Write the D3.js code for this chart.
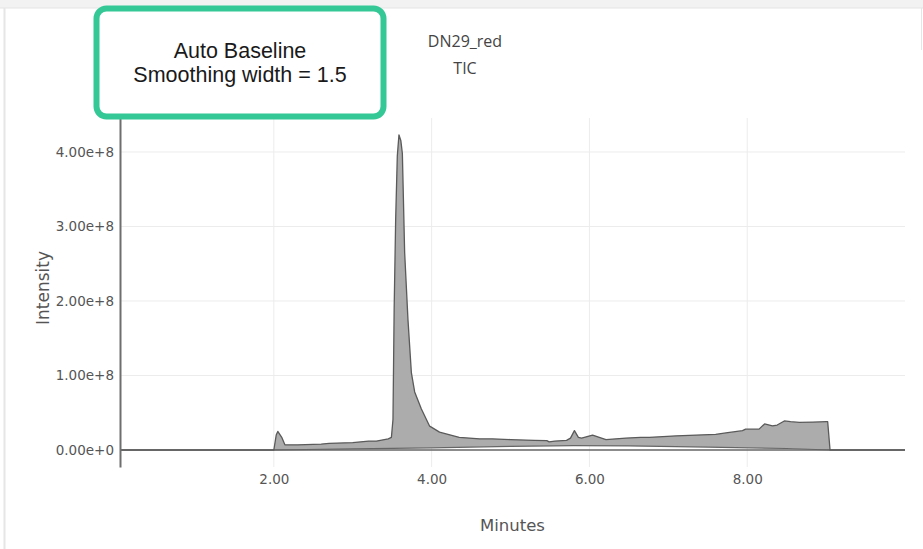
<!DOCTYPE html>
<html lang="en">
<head>
    <meta charset="UTF-8">
    <title>DN29_red TIC</title>
    <style>
        body {
            margin: 0;
            padding: 0;
            background-color: #ffffff;
        }
        svg {
            display: block;
        }
    </style>
    <script src="https://d3js.org/d3.v7.min.js"></script>
</head>
<body>
    <script>
        const width = 923;
        const height = 549;

        // TIC trace (minutes, intensity)
        const minutes = [
            0.05, 2.0, 2.03, 2.05, 2.1, 2.14, 2.3, 2.6, 2.7, 3.0, 3.2, 3.3, 3.45, 3.49, 3.51, 3.525, 3.544, 3.565,
            3.586, 3.61, 3.629, 3.658, 3.70, 3.743, 3.785, 3.87, 3.975, 4.10, 4.35, 4.61, 4.77, 5.0,
            5.3, 5.46, 5.49, 5.56, 5.71, 5.76, 5.81, 5.86, 5.9, 6.04, 6.21, 6.46, 6.65, 6.76, 7.10,
            7.60, 7.73, 7.94, 7.98, 8.15, 8.22, 8.32, 8.38, 8.47, 8.55, 8.66, 8.83, 9.0, 9.02, 9.05,
            9.5, 9.7, 10.0
        ];
        const intensity = [
            0, 0, 0.2e8, 0.25e8, 0.17e8, 0.07e8, 0.07e8, 0.08e8, 0.09e8, 0.1e8, 0.12e8, 0.12e8, 0.15e8, 0.17e8, 0.41e8, 1.9e8, 3.09e8, 3.95e8,
            4.23e8, 4.15e8, 3.98e8, 2.65e8, 1.75e8, 1.04e8, 0.78e8, 0.55e8, 0.32e8, 0.24e8, 0.17e8, 0.15e8, 0.15e8, 0.14e8,
            0.13e8, 0.125e8, 0.11e8, 0.12e8, 0.13e8, 0.16e8, 0.26e8, 0.17e8, 0.16e8, 0.2e8, 0.14e8, 0.16e8, 0.17e8, 0.17e8, 0.19e8,
            0.21e8, 0.23e8, 0.26e8, 0.28e8, 0.28e8, 0.35e8, 0.325e8, 0.335e8, 0.39e8, 0.38e8, 0.37e8, 0.375e8, 0.38e8, 0.38e8, 0,
            0, 0, 0
        ];

        // auto baseline
        const baseMinutes = [2.0, 3.0, 4.0, 5.0, 5.8, 6.5, 7.5, 8.5, 9.05];
        const baseIntensity = [0, 0.015e8, 0.03e8, 0.05e8, 0.06e8, 0.055e8, 0.04e8, 0.02e8, 0];

        const xTicks = [2, 4, 6, 8];
        const yTicks = [0, 1e8, 2e8, 3e8, 4e8];
        const titleLines = ["DN29_red", "TIC"];
        const noteLines = ["Auto Baseline", "Smoothing width = 1.5"];

        const plotLeft = 120, plotRight = 905, plotTop = 118, plotBottom = 467;

        const x = d3.scaleLinear().domain([0.05, 10]).range([plotLeft, plotRight]);
        const y = d3.scaleLinear().domain([-0.228e8, 4.456e8]).range([plotBottom, plotTop]);

        const svg = d3.select("body").append("svg")
            .attr("width", width)
            .attr("height", height);

        // screenshot frame
        svg.append("rect").attr("x", 0).attr("y", 0).attr("width", width).attr("height", 8).attr("fill", "#f2f2f2");
        svg.append("line").attr("x1", 0).attr("x2", width).attr("y1", 8).attr("y2", 8).attr("stroke", "#e4e4e4");
        svg.append("line").attr("x1", 4.5).attr("x2", 4.5).attr("y1", 8).attr("y2", height).attr("stroke", "#e6e6e6").attr("stroke-width", 2);
        svg.append("line").attr("x1", 921.5).attr("x2", 921.5).attr("y1", 8).attr("y2", 50).attr("stroke", "#e6e6e6");

        // grid
        svg.append("g").selectAll("line")
            .data(xTicks)
            .join("line")
            .attr("x1", d => x(d)).attr("x2", d => x(d))
            .attr("y1", plotTop).attr("y2", plotBottom)
            .attr("stroke", "#ececec");
        svg.append("g").selectAll("line")
            .data(yTicks.filter(d => d !== 0))
            .join("line")
            .attr("x1", plotLeft).attr("x2", plotRight)
            .attr("y1", d => y(d)).attr("y2", d => y(d))
            .attr("stroke", "#ececec");

        // fill between trace and baseline
        const trace = minutes.map((m, i) => [m, intensity[i]]);
        const base = baseMinutes.map((m, i) => [m, baseIntensity[i]]);
        const inRange = trace.filter(d => d[0] >= baseMinutes[0] && d[0] <= baseMinutes[baseMinutes.length - 1]);
        const line = d3.line().x(d => x(d[0])).y(d => y(d[1]));

        svg.append("path")
            .attr("d", line(inRange.concat(base.slice().reverse())) + "Z")
            .attr("fill", "#acacac")
            .attr("stroke", "none");

        svg.append("path")
            .attr("d", line(base))
            .attr("fill", "none")
            .attr("stroke", "#666")
            .attr("stroke-width", 1.2);

        // zero line
        svg.append("line")
            .attr("x1", plotLeft).attr("x2", plotRight)
            .attr("y1", y(0)).attr("y2", y(0))
            .attr("stroke", "#666")
            .attr("stroke-width", 1.5);

        svg.append("path")
            .attr("d", line(trace))
            .attr("fill", "none")
            .attr("stroke", "#5a5a5a")
            .attr("stroke-width", 1.3)
            .attr("stroke-linejoin", "round");

        // y axis
        const yAxis = svg.append("g")
            .attr("transform", `translate(${plotLeft},0)`)
            .call(d3.axisLeft(y).tickValues(yTicks).tickSize(0).tickPadding(6)
                .tickFormat(d => d === 0 ? "0.00e+0" : d3.format(".2e")(d)));
        yAxis.select(".domain").attr("stroke", "#6e6e6e").attr("stroke-width", 2);
        yAxis.selectAll("text")
            .attr("font-family", "DejaVu Sans, Verdana, sans-serif")
            .attr("font-size", 13.5)
            .attr("fill", "#555");

        // x axis labels
        const xAxis = svg.append("g")
            .attr("transform", `translate(0,${plotBottom})`)
            .call(d3.axisBottom(x).tickValues(xTicks).tickSize(0).tickPadding(7).tickFormat(d3.format(".2f")));
        xAxis.select(".domain").remove();
        xAxis.selectAll("text")
            .attr("font-family", "DejaVu Sans, Verdana, sans-serif")
            .attr("font-size", 13.5)
            .attr("fill", "#555");

        svg.append("text")
            .attr("x", (plotLeft + plotRight) / 2)
            .attr("y", 531)
            .attr("text-anchor", "middle")
            .attr("font-family", "DejaVu Sans, Verdana, sans-serif")
            .attr("font-size", 16.5)
            .attr("fill", "#555")
            .text("Minutes");

        svg.append("text")
            .attr("transform", "translate(49,288) rotate(-90)")
            .attr("text-anchor", "middle")
            .attr("font-family", "DejaVu Sans, Verdana, sans-serif")
            .attr("font-size", 17)
            .attr("fill", "#555")
            .text("Intensity");

        // title
        svg.append("g").selectAll("text")
            .data(titleLines)
            .join("text")
            .attr("x", 465)
            .attr("y", (d, i) => 47 + i * 26.5)
            .attr("text-anchor", "middle")
            .attr("font-family", "Open Sans, sans-serif")
            .attr("font-size", 16)
            .attr("fill", "#444")
            .text(d => d);

        // annotation box
        svg.append("rect")
            .attr("x", 96.5).attr("y", 8.5)
            .attr("width", 287).attr("height", 108)
            .attr("rx", 10)
            .attr("fill", "#ffffff")
            .attr("stroke", "#34c897")
            .attr("stroke-width", 6);

        svg.append("g").selectAll("text")
            .data(noteLines)
            .join("text")
            .attr("x", 240)
            .attr("y", (d, i) => 57.5 + i * 24.5)
            .attr("text-anchor", "middle")
            .attr("font-family", "Liberation Sans, Arial, sans-serif")
            .attr("font-size", 21.5)
            .attr("fill", "#1a1a1a")
            .text(d => d);
    </script>
</body>
</html>
